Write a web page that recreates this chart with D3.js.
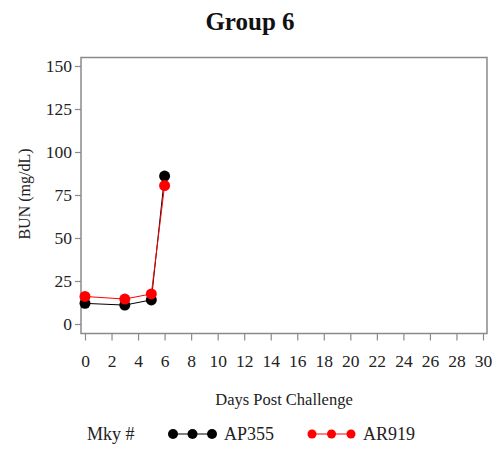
<!DOCTYPE html>
<html><head><meta charset="utf-8">
<script src="https://cdn.jsdelivr.net/npm/d3@7"></script>
<style>body{margin:0;background:#fff}svg{display:block}svg text{font-family:"Liberation Serif","Times New Roman",serif !important}</style>
</head><body><svg id="c" width="496" height="449"></svg>
<script>
const days = [0, 3, 5, 6];
const ap355 = [12, 11, 14, 86];
const ar919 = [16, 14.5, 17.5, 80.5];
const series = [
  {name: "AP355", color: "#000000", values: ap355},
  {name: "AR919", color: "#ff0000", values: ar919}
];
const xTicks = d3.range(0, 31, 2);
const yTicks = [0, 25, 50, 75, 100, 125, 150];

const svg = d3.select("#c");
const x = d3.scaleLinear().domain([0, 30]).range([85, 483]);
const y = d3.scaleLinear().domain([0, 150]).range([324, 66]);
const frame = {l: 81, t: 57.5, r: 487, b: 333.5};
const axisColor = "#8a8a8a";

svg.append("text").attr("x", 250).attr("y", 30).attr("text-anchor", "middle")
  .attr("font-size", 25).attr("font-weight", "bold").attr("fill", "#111").text("Group 6");

svg.append("rect").attr("x", frame.l).attr("y", frame.t)
  .attr("width", frame.r - frame.l).attr("height", frame.b - frame.t)
  .attr("fill", "none").attr("stroke", axisColor).attr("stroke-width", 1.5);

const yAxis = svg.append("g").attr("transform", `translate(${frame.l},0)`)
  .call(d3.axisLeft(y).tickValues(yTicks).tickSize(6).tickPadding(3));
yAxis.select(".domain").remove();
yAxis.selectAll("line").attr("stroke", axisColor).attr("stroke-width", 1.2);
yAxis.selectAll("text").attr("font-size", 17.5).attr("fill", "#222");

const xAxis = svg.append("g").attr("transform", `translate(0,${frame.b})`)
  .call(d3.axisBottom(x).tickValues(xTicks).tickSize(7).tickPadding(14));
xAxis.select(".domain").remove();
xAxis.selectAll("line").attr("stroke", axisColor).attr("stroke-width", 1.2);
xAxis.selectAll("text").attr("font-size", 17.5).attr("fill", "#222");

svg.append("text").attr("transform", "translate(30,194) rotate(-90)")
  .attr("text-anchor", "middle").attr("font-size", 16).attr("fill", "#222").text("BUN (mg/dL)");
svg.append("text").attr("x", 284).attr("y", 405).attr("text-anchor", "middle")
  .attr("font-size", 16.5).attr("fill", "#222").text("Days Post Challenge");

const line = d3.line().x((d, i) => x(days[i])).y(d => y(d));
series.forEach(s => {
  svg.append("path").datum(s.values).attr("d", line)
    .attr("fill", "none").attr("stroke", s.color).attr("stroke-width", 1);
  svg.selectAll(null).data(s.values).enter().append("circle")
    .attr("cx", (d, i) => x(days[i])).attr("cy", d => y(d)).attr("r", 5.5)
    .attr("fill", s.color);
});

// legend
const ly = 434;
svg.append("text").attr("x", 87).attr("y", ly + 6).attr("font-size", 18).attr("fill", "#222").text("Mky #");
const legendX = [{sx: 173, tx: 224}, {sx: 312, tx: 363}];
series.forEach((s, k) => {
  const lx = legendX[k].sx;
  svg.append("line").attr("x1", lx).attr("x2", lx + 39).attr("y1", ly).attr("y2", ly)
    .attr("stroke", s.color).attr("stroke-width", 1);
  [0, 19.5, 39].forEach(o => svg.append("circle").attr("cx", lx + o).attr("cy", ly).attr("r", k ? 4.5 : 5).attr("fill", s.color));
  svg.append("text").attr("x", legendX[k].tx).attr("y", ly + 6).attr("font-size", 18).attr("fill", "#222").text(s.name);
});
</script></body></html>
